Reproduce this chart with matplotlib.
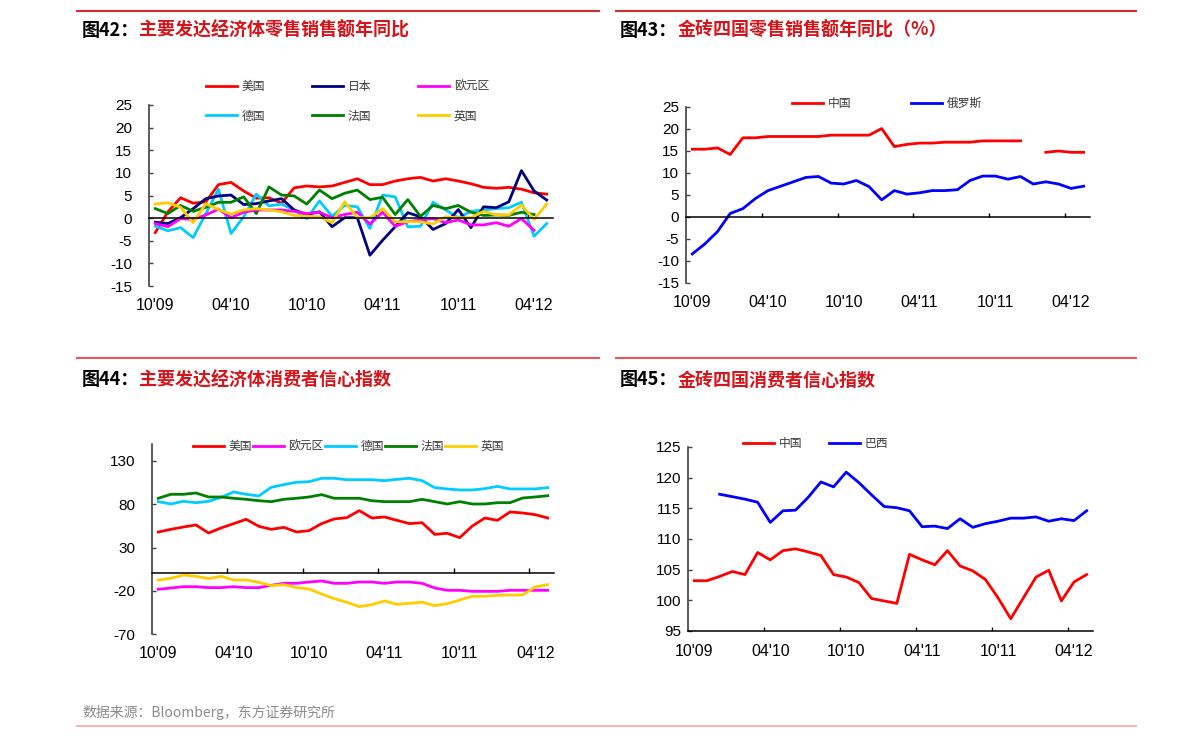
import matplotlib
matplotlib.use('Agg')
import matplotlib.pyplot as plt
from matplotlib.lines import Line2D
import numpy as np

plt.rcParams['font.family'] = ['Liberation Sans', 'Noto Sans CJK SC', 'DejaVu Sans']

nan = np.nan
# 32 monthly categories, Oct 2009 .. May 2012
x_labels = ["10'09", "04'10", "10'10", "04'11", "10'11", "04'12"]

# ---- Fig 42: developed economies retail sales YoY (%)
r_us = [-3.2, 1.4, 4.5, 3.3, 3.6, 7.4, 7.9, 6.0, 4.4, 4.5, 3.3, 6.7, 7.1, 6.9, 7.1, 7.9,
        8.7, 7.4, 7.4, 8.2, 8.7, 9.0, 8.2, 8.7, 8.2, 7.6, 6.8, 6.6, 6.8, 6.4, 5.6, 5.3]
r_jp = [-0.9, -1.2, 0.1, 2.1, 4.3, 4.9, 5.1, 3.0, 3.2, 3.8, 4.3, 1.8, 0.8, 1.4, -1.9, 0.1,
        0.1, -8.2, -4.9, -1.9, 1.2, 0.3, -2.5, -1.2, 1.9, -2.1, 2.5, 2.3, 3.6, 10.5, 6.0, 4.0]
r_ez = [-1.2, -1.9, -0.1, -0.3, 0.7, 2.0, 0.1, 1.3, 1.8, 1.8, 1.8, 1.5, 1.0, 1.3, 0.1, 0.8,
        1.3, -1.3, 1.3, -1.8, -0.8, -0.4, -0.1, -1.0, -0.4, -1.5, -1.5, -1.0, -1.8, -0.1, -2.7, nan]
r_de = [-1.8, -2.8, -2.1, -4.3, 1.0, 6.4, -3.4, 0.3, 5.3, 2.7, 3.1, 1.8, -0.1, 3.8, 0.4, 2.8,
        2.5, -2.3, 5.1, 4.7, -1.9, -1.8, 3.5, 1.8, 0.1, 1.5, 1.8, 2.1, 2.3, 3.5, -4.0, -1.2]
r_fr = [2.1, 1.0, 2.8, 1.5, 2.4, 3.5, 3.5, 4.7, 1.0, 6.9, 5.1, 4.9, 3.1, 6.2, 4.3, 5.5,
        6.2, 4.1, 4.6, 0.8, 4.1, 0.4, 2.8, 2.1, 2.8, 1.3, 0.6, 0.7, 0.6, 1.3, 0.8, nan]
r_uk = [3.1, 3.4, 2.4, -1.0, 3.2, 1.9, 0.9, 1.8, 2.1, 1.8, 1.4, 0.6, 0.4, 0.3, -1.0, 3.6,
        0.1, 0.1, 2.1, -0.8, -0.8, -0.8, -1.3, 0.3, 0.1, 0.1, 1.5, 0.7, 0.7, 2.9, -0.3, 3.1]

# ---- Fig 43: BRIC retail sales YoY (%)
b_cn = [15.4, 15.4, 15.7, 14.2, 18.0, 18.0, 18.3, 18.3, 18.3, 18.3, 18.3, 18.6, 18.6, 18.6, 18.6, 20.1,
        16.0, 16.5, 16.8, 16.8, 17.0, 17.0, 17.0, 17.3, 17.3, 17.3, 17.3, nan, 14.7, 15.0, 14.7, 14.7]
b_ru = [-8.4, -6.1, -3.3, 0.8, 1.9, 4.2, 6.0, 7.0, 8.0, 9.0, 9.2, 7.7, 7.5, 8.3, 6.9, 3.9,
        6.0, 5.2, 5.5, 6.0, 6.0, 6.2, 8.3, 9.3, 9.3, 8.6, 9.2, 7.5, 8.0, 7.5, 6.5, 7.0]

# ---- Fig 44: developed economies consumer confidence
c_us = [47.9, 51.0, 53.7, 56.1, 46.8, 52.6, 57.6, 62.6, 54.5, 51.0, 53.3, 47.9, 49.5, 57.6, 63.0, 64.5,
        72.6, 64.1, 65.3, 61.4, 57.6, 58.7, 45.2, 46.4, 41.4, 54.9, 64.1, 61.4, 71.1, 69.9, 68.0, 64.1]
c_ez = [-18.3, -16.8, -15.3, -15.3, -16.4, -16.4, -15.3, -16.4, -16.4, -13.7, -11.4, -11.4, -9.9, -8.7, -11.4, -11.4,
        -9.9, -9.9, -11.4, -9.9, -9.9, -11.4, -16.8, -19.5, -19.5, -20.7, -20.7, -20.7, -19.5, -19.5, -19.5, -19.5]
c_de = [83.0, 80.3, 83.4, 81.8, 83.4, 88.0, 94.2, 91.5, 89.6, 99.6, 102.7, 105.4, 106.1, 110.0, 110.0, 108.4,
        108.4, 108.4, 107.3, 108.8, 110.0, 107.3, 99.2, 97.7, 96.5, 96.5, 98.0, 100.7, 97.7, 97.7, 97.7, 99.2]
c_fr = [86.9, 91.5, 91.5, 93.0, 88.4, 88.4, 86.9, 85.7, 84.1, 83.0, 85.7, 86.9, 88.4, 91.1, 86.9, 86.9,
        86.9, 84.1, 83.0, 83.0, 83.0, 85.7, 83.0, 80.3, 83.0, 80.3, 80.3, 81.8, 81.8, 87.2, 88.4, 89.9]
c_uk = [-7.6, -5.6, -1.8, -3.3, -6.0, -3.3, -7.6, -7.6, -10.2, -14.1, -12.9, -16.4, -18.0, -23.7, -29.1, -33.3,
        -38.4, -36.1, -31.8, -35.7, -34.5, -33.3, -37.2, -34.9, -30.7, -26.4, -26.4, -25.3, -24.9, -24.9, -15.6, -12.9]

# ---- Fig 45: BRIC consumer confidence
k_cn = [103.2, 103.2, 103.9, 104.7, 104.2, 107.8, 106.6, 108.1, 108.4, 107.9, 107.3, 104.2, 103.8, 102.9, 100.3, 99.9,
        99.5, 107.5, 106.6, 105.8, 108.1, 105.6, 104.8, 103.4, 100.4, 97.0, 100.4, 103.8, 104.9, 99.9, 103.0, 104.2]
k_br = [nan, nan, 117.3, 116.9, 116.5, 116.0, 112.7, 114.6, 114.7, 116.8, 119.3, 118.5, 120.9, 119.2, 117.2, 115.3,
        115.1, 114.6, 112.0, 112.1, 111.7, 113.3, 111.9, 112.5, 112.9, 113.4, 113.4, 113.6, 112.9, 113.3, 113.0, 114.6]

RED, NAVY, MAG, CYAN, GREEN, YEL, BLUE = '#ff0000', '#000080', '#ff00ff', '#00ccff', '#008000', '#ffcc00', '#0000ff'

W, H = 1191, 739
fig = plt.figure(figsize=(W / 100, H / 100), dpi=100)


def px_axes(l, t, r, b):
    return fig.add_axes([l / W, 1 - b / H, (r - l) / W, (b - t) / H])


def setup(ax, ylim, yticks, zero=True, ypad=12, tlen=3, xpad=8.5):
    n = 32
    xs = np.arange(n)
    ax.set_xlim(-0.5, n - 0.5)
    ax.set_ylim(*ylim)
    ax.set_yticks(yticks)
    ax.set_yticklabels([str(v) for v in yticks])
    for s in ['top', 'right']:
        ax.spines[s].set_visible(False)
    ax.spines['left'].set_color('#404040')
    ax.spines['left'].set_linewidth(1.2)
    ax.spines['bottom'].set_color('black')
    ax.spines['bottom'].set_linewidth(1.1)
    if zero:
        ax.spines['bottom'].set_position(('data', 0))
    ax.set_xticks(np.arange(5.5, n - 1, 6))
    ax.tick_params(axis='x', direction='in', length=tlen, width=1.0, labelbottom=False, color='black')
    ax.tick_params(axis='y', direction='in', length=3, width=1.0, pad=ypad, labelsize=11, color='#404040')
    sec = ax.secondary_xaxis('bottom')
    sec.set_xticks(np.arange(0, n, 6))
    sec.set_xticklabels(x_labels)
    sec.tick_params(length=0, pad=xpad, labelsize=11.5)
    sec.spines['bottom'].set_visible(False)
    ax.set_zorder(2)
    return xs


def legend(ax, ncol, x_px, y_px, colsp, labelsp=0.5):
    leg = ax.legend(loc='upper left', bbox_to_anchor=(x_px / W, 1 - y_px / H),
                    bbox_transform=fig.transFigure, ncol=ncol, frameon=False,
                    borderpad=0, borderaxespad=0, handlelength=2.6, handletextpad=0.4,
                    columnspacing=colsp, labelspacing=labelsp,
                    prop={'family': ['Noto Sans CJK SC'], 'size': 8.5})
    for t in leg.get_texts():
        t.set_color('#3a3a3a')
    return leg


LW = 2.0

# Panel 1
ax1 = px_axes(149, 105, 553, 286)
xs = setup(ax1, (-15, 25), list(range(-15, 26, 5)), ypad=12)
ax1.plot(xs, r_us, color=RED, lw=LW, label='美国')
ax1.plot(xs, r_de, color=CYAN, lw=LW, label='德国')
ax1.plot(xs, r_jp, color=NAVY, lw=LW, label='日本')
ax1.plot(xs, r_fr, color=GREEN, lw=LW, label='法国')
ax1.plot(xs, r_ez, color=MAG, lw=LW, label='欧元区')
ax1.plot(xs, r_uk, color=YEL, lw=LW, label='英国')
legend(ax1, 3, 206, 80, 4.0, labelsp=1.4)

# Panel 2
ax2 = px_axes(686, 107, 1090, 283)
xs = setup(ax2, (-15, 25), list(range(-15, 26, 5)), ypad=5)
ax2.plot(xs, b_cn, color=RED, lw=LW, label='中国')
ax2.plot(xs, b_ru, color=BLUE, lw=LW, label='俄罗斯')
legend(ax2, 2, 792, 97, 5.1)

# Panel 3
ax3 = px_axes(152, 443.7, 554, 634)
xs = setup(ax3, (-70, 150), [-70, -20, 30, 80, 130], ypad=12, tlen=3.5)
ax3.plot(xs, c_us, color=RED, lw=LW, label='美国')
ax3.plot(xs, c_ez, color=MAG, lw=LW, label='欧元区')
ax3.plot(xs, c_de, color=CYAN, lw=LW, label='德国')
ax3.plot(xs, c_fr, color=GREEN, lw=LW, label='法国')
ax3.plot(xs, c_uk, color=YEL, lw=LW, label='英国')
legend(ax3, 5, 193, 440, 0.1)

# Panel 4
ax4 = px_axes(688, 447, 1093, 631)
xs = setup(ax4, (95, 125), list(range(95, 126, 5)), zero=False, ypad=5, xpad=9)
ax4.plot(xs, k_cn, color=RED, lw=LW, label='中国')
ax4.plot(xs, k_br, color=BLUE, lw=LW, label='巴西')
legend(ax4, 2, 743, 437, 2.3)

# Decorations: rules
def hline(x0, x1, y, color, lw):
    fig.add_artist(Line2D([x0 / W, x1 / W], [1 - y / H, 1 - y / H], color=color, lw=lw, transform=fig.transFigure))

hline(77, 599, 10.5, '#e0282e', 1.5)
hline(616, 1136, 10.5, '#e0282e', 1.5)
hline(77, 599, 358, '#e35a5e', 1.5)
hline(616, 1136, 358, '#e35a5e', 1.5)
hline(77, 1136, 726, '#f3b5b5', 1.5)

# Titles
TF = {'family': ['Noto Sans CJK SC', 'DejaVu Sans'], 'size': 13, 'weight': 'bold'}

def title(x, y, head, rest):
    t1 = fig.text(x / W, 1 - y / H, head, color='black', va='center', ha='left', fontdict=TF)
    ax1.annotate(rest, xy=(1, 0), xycoords=t1, va='bottom', ha='left', color='#d7141a',
                 annotation_clip=False, **TF)

title(82, 30, '图42：', '主要发达经济体零售销售额年同比')
title(620, 30, '图43：', '金砖四国零售销售额年同比（%）')
title(82, 380, '图44：', '主要发达经济体消费者信心指数')
title(620, 380, '图45：', '金砖四国消费者信心指数')

fig.text(82 / W, 1 - 712 / H, '数据来源：Bloomberg，东方证券研究所', color='#8c8c8c', va='center', ha='left',
         family=['Noto Sans CJK SC', 'DejaVu Sans'], size=10)

fig.savefig('out.png', dpi=100)
